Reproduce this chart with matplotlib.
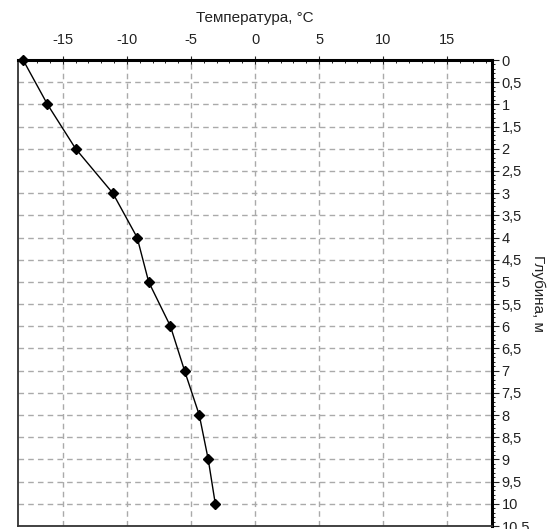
import matplotlib
matplotlib.use("Agg")
import matplotlib.pyplot as plt
from matplotlib.ticker import MultipleLocator, FuncFormatter

depth = [0, 1, 2, 3, 4, 5, 6, 7, 8, 9, 10]
temperature = [-18.1, -16.2, -14.0, -11.1, -9.2, -8.3, -6.6, -5.5, -4.35, -3.65, -3.1]
x_ticks = [-15, -10, -5, 0, 5, 10, 15]
x_label = "Температура, °C"
y_label = "Глубина, м"

plt.rcParams['font.family'] = ['Liberation Sans', 'DejaVu Sans']
plt.rcParams['axes.unicode_minus'] = False

fig = plt.figure(figsize=(5.55, 5.29), dpi=100)
ax = fig.add_axes([18/555, 1-526/529, (492-18)/555, (526-60)/529])

ax.plot(temperature, depth, color='black', linewidth=1.0, marker='D', markersize=5.5,
        markerfacecolor='black', markeredgecolor='black', zorder=3, clip_on=False)

ax.set_xlim(-18.5, 18.5)
ax.set_ylim(10.5, 0)

ax.xaxis.tick_top()
ax.xaxis.set_label_position('top')
ax.yaxis.tick_right()
ax.yaxis.set_label_position('right')

ax.set_xticks(x_ticks)
ax.xaxis.set_minor_locator(MultipleLocator(1))
ax.yaxis.set_major_locator(MultipleLocator(0.5))
ax.yaxis.set_minor_locator(MultipleLocator(0.1))
ax.yaxis.set_major_formatter(FuncFormatter(lambda v, p: ('%g' % v).replace('.', ',')))

ax.tick_params(axis='x', which='major', direction='inout', length=6, width=0.8, labelsize=10.5, pad=6, colors='#222222')
ax.tick_params(axis='x', which='minor', direction='in', length=2, width=0.6)
ax.tick_params(axis='y', which='major', direction='out', length=5, width=0.8, labelsize=10.5, pad=2, colors='#222222')
ax.tick_params(axis='y', which='minor', direction='out', length=2.5, width=0.6)

ax.set_xlabel(x_label, fontsize=11, labelpad=8, color='#222222')
ax.set_ylabel(y_label, fontsize=11, rotation=-90, labelpad=11, color='#222222')

ax.grid(True, which='major', color='#aaaaaa', linestyle=(0, (4, 3)), linewidth=1.0)

for side in ['top', 'right']:
    ax.spines[side].set_linewidth(2.2)
    ax.spines[side].set_color('black')
for side in ['left', 'bottom']:
    ax.spines[side].set_linewidth(1.3)
    ax.spines[side].set_color('#333333')

fig.savefig('out.png', dpi=100)
